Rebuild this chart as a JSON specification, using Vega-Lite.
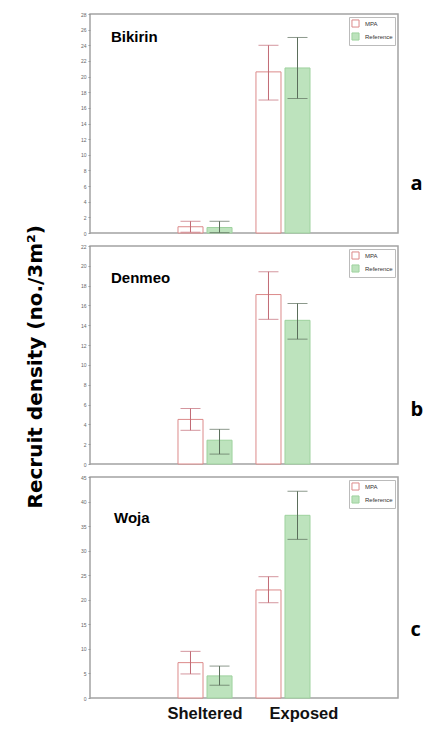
{
  "$schema": "https://vega.github.io/schema/vega-lite/v6.json",
  "padding": {"left": 25, "top": 11, "right": 2, "bottom": 2},
  "background": "white",
  "title": {"text": "Recruit density (no./3m²)", "orient": "left", "anchor": "middle", "font": "DejaVu Sans", "fontSize": 20, "fontWeight": "bold", "color": "#000", "offset": 34},
  "datasets": {
    "bik": [
      {"site": "Sheltered", "group": "MPA", "mean": 0.8, "lo": 0.1, "hi": 1.5},
      {"site": "Sheltered", "group": "Reference", "mean": 0.7, "lo": 0.05, "hi": 1.5},
      {"site": "Exposed", "group": "MPA", "mean": 20.6, "lo": 17.0, "hi": 24.0},
      {"site": "Exposed", "group": "Reference", "mean": 21.1, "lo": 17.2, "hi": 25.0}
    ],
    "den": [
      {"site": "Sheltered", "group": "MPA", "mean": 4.5, "lo": 3.4, "hi": 5.6},
      {"site": "Sheltered", "group": "Reference", "mean": 2.4, "lo": 1.0, "hi": 3.5},
      {"site": "Exposed", "group": "MPA", "mean": 17.1, "lo": 14.6, "hi": 19.4},
      {"site": "Exposed", "group": "Reference", "mean": 14.5, "lo": 12.6, "hi": 16.2}
    ],
    "woj": [
      {"site": "Sheltered", "group": "MPA", "mean": 7.2, "lo": 4.9, "hi": 9.5},
      {"site": "Sheltered", "group": "Reference", "mean": 4.5, "lo": 2.6, "hi": 6.5},
      {"site": "Exposed", "group": "MPA", "mean": 22.0, "lo": 19.4, "hi": 24.7},
      {"site": "Exposed", "group": "Reference", "mean": 37.2, "lo": 32.3, "hi": 42.1}
    ]
  },
  "config": {
    "view": {"stroke": "#a3a3a3", "strokeWidth": 1.5},
    "axis": {"grid": false, "domain": false, "labelFont": "Liberation Sans", "labelFontSize": 5, "labelColor": "#666", "tickColor": "#999", "tickSize": 2, "labelPadding": 2},
    "legend": {"labelFont": "Liberation Sans", "labelFontSize": 6, "labelColor": "#333", "symbolType": "square", "symbolSize": 50, "symbolStrokeWidth": 1, "fillColor": "white", "strokeColor": "#bbbbbb", "padding": 2, "rowPadding": 0, "offset": 3, "labelOffset": 5}
  },
  "bounds": "flush",
  "spacing": 13,
  "resolve": {"legend": {"color": "independent", "stroke": "independent"}},
  "vconcat": [
    {
      "width": 308, "height": 219,
      "data": {"name": "bik"},
      "title": {"text": "Bikirin", "anchor": "start", "frame": "group", "offset": -33, "dx": 21, "fontSize": 15, "fontWeight": "bold", "font": "Liberation Sans", "color": "#000"},
      "encoding": {
        "x": {"field": "site", "type": "nominal", "sort": ["Sheltered", "Exposed"], "scale": {"paddingInner": 0.05, "paddingOuter": 1}, "axis": null},
        "xOffset": {"field": "group", "type": "nominal", "sort": ["MPA", "Reference"], "scale": {"paddingInner": 0.138, "paddingOuter": 0.345}}
      },
      "layer": [
        {
          "mark": {"type": "bar", "strokeWidth": 1},
          "encoding": {
            "y": {"field": "mean", "type": "quantitative", "scale": {"domain": [0, 28], "nice": false}, "axis": {"values": [0, 2, 4, 6, 8, 10, 12, 14, 16, 18, 20, 22, 24, 26, 28], "title": null}},
            "color": {"field": "group", "type": "nominal", "scale": {"domain": ["MPA", "Reference"], "range": ["#ffffff", "#bde3bd"]}, "legend": {"orient": "top-right", "title": null}},
            "stroke": {"field": "group", "type": "nominal", "scale": {"domain": ["MPA", "Reference"], "range": ["#dc8a8a", "#9ed29e"]}, "legend": {"orient": "top-right", "title": null}}
          }
        },
        {
          "mark": {"type": "rule", "strokeWidth": 1},
          "encoding": {
            "y": {"field": "lo", "type": "quantitative", "scale": {"domain": [0, 28], "nice": false}, "axis": {"orient": "right", "labels": false, "ticks": false, "domain": false, "title": "a", "titleAngle": 0, "titleFontSize": 20, "titleFontWeight": "bold", "titleFont": "Open Sans", "titleColor": "#000", "titlePadding": 12, "titleY": 169, "titleBaseline": "middle", "titleAlign": "left"}},
            "y2": {"field": "hi"},
            "color": {"condition": {"test": "datum.group === 'MPA'", "value": "#c26a75"}, "value": "#5b6e5b"}
          }
        },
        {
          "mark": {"type": "tick", "thickness": 1, "size": 20},
          "encoding": {
            "y": {"field": "hi", "type": "quantitative", "scale": {"domain": [0, 28], "nice": false}, "axis": null},
            "color": {"condition": {"test": "datum.group === 'MPA'", "value": "#c26a75"}, "value": "#5b6e5b"}
          }
        },
        {
          "mark": {"type": "tick", "thickness": 1, "size": 20},
          "encoding": {
            "y": {"field": "lo", "type": "quantitative", "scale": {"domain": [0, 28], "nice": false}, "axis": null},
            "color": {"condition": {"test": "datum.group === 'MPA'", "value": "#c26a75"}, "value": "#5b6e5b"}
          }
        }
      ],
      "resolve": {"axis": {"y": "independent"}}
    },
    {
      "width": 308, "height": 218,
      "data": {"name": "den"},
      "title": {"text": "Denmeo", "anchor": "start", "frame": "group", "offset": -42, "dx": 21, "fontSize": 15, "fontWeight": "bold", "font": "Liberation Sans", "color": "#000"},
      "encoding": {
        "x": {"field": "site", "type": "nominal", "sort": ["Sheltered", "Exposed"], "scale": {"paddingInner": 0.05, "paddingOuter": 1}, "axis": null},
        "xOffset": {"field": "group", "type": "nominal", "sort": ["MPA", "Reference"], "scale": {"paddingInner": 0.138, "paddingOuter": 0.345}}
      },
      "layer": [
        {
          "mark": {"type": "bar", "strokeWidth": 1},
          "encoding": {
            "y": {"field": "mean", "type": "quantitative", "scale": {"domain": [0, 22], "nice": false}, "axis": {"values": [0, 2, 4, 6, 8, 10, 12, 14, 16, 18, 20, 22], "title": null}},
            "color": {"field": "group", "type": "nominal", "scale": {"domain": ["MPA", "Reference"], "range": ["#ffffff", "#bde3bd"]}, "legend": {"orient": "top-right", "title": null}},
            "stroke": {"field": "group", "type": "nominal", "scale": {"domain": ["MPA", "Reference"], "range": ["#dc8a8a", "#9ed29e"]}, "legend": {"orient": "top-right", "title": null}}
          }
        },
        {
          "mark": {"type": "rule", "strokeWidth": 1},
          "encoding": {
            "y": {"field": "lo", "type": "quantitative", "scale": {"domain": [0, 22], "nice": false}, "axis": {"orient": "right", "labels": false, "ticks": false, "domain": false, "title": "b", "titleAngle": 0, "titleFontSize": 20, "titleFontWeight": "bold", "titleFont": "Open Sans", "titleColor": "#000", "titlePadding": 12, "titleY": 163, "titleBaseline": "middle", "titleAlign": "left"}},
            "y2": {"field": "hi"},
            "color": {"condition": {"test": "datum.group === 'MPA'", "value": "#c26a75"}, "value": "#5b6e5b"}
          }
        },
        {
          "mark": {"type": "tick", "thickness": 1, "size": 20},
          "encoding": {
            "y": {"field": "hi", "type": "quantitative", "scale": {"domain": [0, 22], "nice": false}, "axis": null},
            "color": {"condition": {"test": "datum.group === 'MPA'", "value": "#c26a75"}, "value": "#5b6e5b"}
          }
        },
        {
          "mark": {"type": "tick", "thickness": 1, "size": 20},
          "encoding": {
            "y": {"field": "lo", "type": "quantitative", "scale": {"domain": [0, 22], "nice": false}, "axis": null},
            "color": {"condition": {"test": "datum.group === 'MPA'", "value": "#c26a75"}, "value": "#5b6e5b"}
          }
        }
      ],
      "resolve": {"axis": {"y": "independent"}}
    },
    {
      "width": 308, "height": 221,
      "data": {"name": "woj"},
      "title": {"text": "Woja", "anchor": "start", "frame": "group", "offset": -51, "dx": 24, "fontSize": 15, "fontWeight": "bold", "font": "Liberation Sans", "color": "#000"},
      "encoding": {
        "x": {"field": "site", "type": "nominal", "sort": ["Sheltered", "Exposed"], "scale": {"paddingInner": 0.05, "paddingOuter": 1}, "axis": {"title": null, "labelAngle": 0, "labelFont": "Liberation Sans", "labelFontSize": 16.5, "labelFontWeight": "bold", "labelColor": "#111", "ticks": false, "labelPadding": 7, "labelOffset": {"condition": {"test": "datum.value === 'Exposed'", "value": 21}, "value": 0}}},
        "xOffset": {"field": "group", "type": "nominal", "sort": ["MPA", "Reference"], "scale": {"paddingInner": 0.138, "paddingOuter": 0.345}}
      },
      "layer": [
        {
          "mark": {"type": "bar", "strokeWidth": 1},
          "encoding": {
            "y": {"field": "mean", "type": "quantitative", "scale": {"domain": [0, 45], "nice": false}, "axis": {"values": [0, 5, 10, 15, 20, 25, 30, 35, 40, 45], "title": null}},
            "color": {"field": "group", "type": "nominal", "scale": {"domain": ["MPA", "Reference"], "range": ["#ffffff", "#bde3bd"]}, "legend": {"orient": "top-right", "title": null}},
            "stroke": {"field": "group", "type": "nominal", "scale": {"domain": ["MPA", "Reference"], "range": ["#dc8a8a", "#9ed29e"]}, "legend": {"orient": "top-right", "title": null}}
          }
        },
        {
          "mark": {"type": "rule", "strokeWidth": 1},
          "encoding": {
            "y": {"field": "lo", "type": "quantitative", "scale": {"domain": [0, 45], "nice": false}, "axis": {"orient": "right", "labels": false, "ticks": false, "domain": false, "title": "c", "titleAngle": 0, "titleFontSize": 20, "titleFontWeight": "bold", "titleFont": "Open Sans", "titleColor": "#000", "titlePadding": 12, "titleY": 152, "titleBaseline": "middle", "titleAlign": "left"}},
            "y2": {"field": "hi"},
            "color": {"condition": {"test": "datum.group === 'MPA'", "value": "#c26a75"}, "value": "#5b6e5b"}
          }
        },
        {
          "mark": {"type": "tick", "thickness": 1, "size": 20},
          "encoding": {
            "y": {"field": "hi", "type": "quantitative", "scale": {"domain": [0, 45], "nice": false}, "axis": null},
            "color": {"condition": {"test": "datum.group === 'MPA'", "value": "#c26a75"}, "value": "#5b6e5b"}
          }
        },
        {
          "mark": {"type": "tick", "thickness": 1, "size": 20},
          "encoding": {
            "y": {"field": "lo", "type": "quantitative", "scale": {"domain": [0, 45], "nice": false}, "axis": null},
            "color": {"condition": {"test": "datum.group === 'MPA'", "value": "#c26a75"}, "value": "#5b6e5b"}
          }
        }
      ],
      "resolve": {"axis": {"y": "independent"}}
    }
  ]
}
